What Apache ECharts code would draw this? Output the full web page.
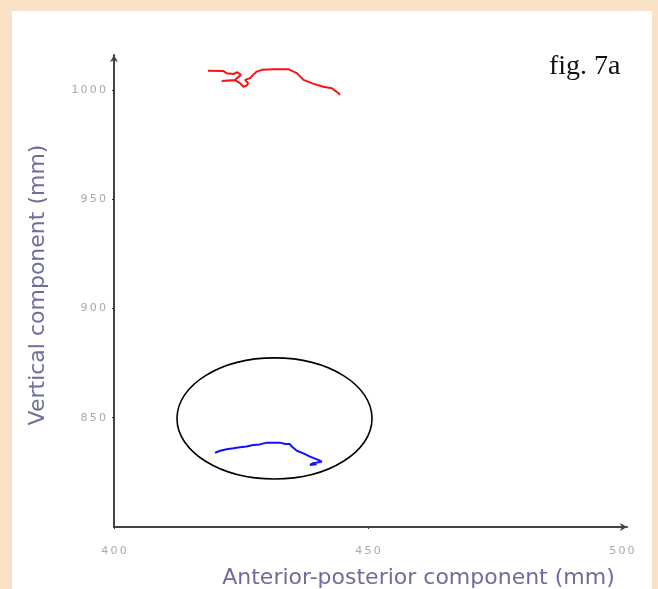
<!DOCTYPE html>
<html>
<head>
<meta charset="utf-8">
<script src="https://cdn.jsdelivr.net/npm/echarts@6/dist/echarts.min.js"></script>
<style>
  body { margin: 0; background: #f8e1c5; }
  #panel { position: absolute; left: 12px; top: 11px; width: 640px; height: 578px; background: #fff; }
  #chart { position: absolute; left: 0; top: 0; width: 658px; height: 589px; }
</style>
</head>
<body>
<div id="panel"></div>
<div id="chart"></div>
<script>
// Head marker trace (red), values in mm [anterior-posterior, vertical]
const headTrace = [
    [418.5, 1008.8], [421.5, 1008.7], [422.2, 1007.6], [423.5, 1007.3], [424.3, 1008.1],
    [425.0, 1006.9], [423.8, 1004.6], [421.2, 1004.1], [423.8, 1004.5], [424.8, 1003.1],
    [425.5, 1001.5], [426.1, 1002.0], [426.4, 1003.1], [425.8, 1004.6], [426.8, 1005.4],
    [427.4, 1006.9], [428.1, 1008.4], [429.1, 1009.2], [431.4, 1009.5], [434.3, 1009.5],
    [436.0, 1007.7], [437.3, 1004.6], [439.2, 1002.9], [441.2, 1001.5], [442.9, 1000.8],
    [444.2, 998.5], [444.5, 997.8]
];
// Lower marker trace (blue)
const lowerTrace = [
    [419.9, 834.0], [420.9, 834.9], [422.2, 835.6], [423.5, 836.0], [424.8, 836.5],
    [426.1, 836.8], [427.4, 837.5], [428.7, 837.8], [430.1, 838.6], [432.7, 838.6],
    [433.7, 838.0], [434.6, 838.0], [435.0, 836.8], [436.0, 834.9], [437.3, 833.7],
    [438.6, 832.2], [440.2, 830.7], [440.9, 829.9], [439.2, 829.2], [438.6, 828.4],
    [439.9, 828.7]
];
const xTicks = [400, 450, 500];
const yTicks = [850, 900, 950, 1000];
// highlighted region: center and radii in mm
const ringCenter = [431.6, 849.7];
const ringRadius = [19.2, 27.7];

const spaced = v => String(v).split('').join('\u2009');
const labelStyle = { color: '#a9a9a9', fontFamily: 'DejaVu Sans', fontSize: 11 };
const nameStyle = { color: '#6d6d9e', fontFamily: 'DejaVu Sans', fontSize: 22 };
const lineStyle = { color: '#444', width: 2 };

const chart = echarts.init(document.getElementById('chart'));
chart.setOption({
    animation: false,
    grid: { left: 114, top: 55, right: 31, bottom: 62, containLabel: false, outerBoundsMode: 'none' },
    xAxis: {
        type: 'value', min: 400, max: 501,
        splitLine: { show: false },
        axisLine: { lineStyle: lineStyle, symbol: ['none', 'arrow'], symbolSize: [6, 7] },
        axisTick: { customValues: xTicks, length: 2, lineStyle: { color: '#333' } },
        axisLabel: Object.assign({ customValues: xTicks, margin: 19, formatter: spaced }, labelStyle),
        name: 'Anterior-posterior component (mm)', nameLocation: 'middle', nameGap: 40,
        nameTextStyle: Object.assign({ padding: [0, 0, 0, 96] }, nameStyle)
    },
    yAxis: {
        type: 'value', min: 800, max: 1016,
        splitLine: { show: false },
        axisLine: { lineStyle: lineStyle, symbol: ['none', 'arrow'], symbolSize: [6, 7] },
        axisTick: { customValues: yTicks, length: 2, lineStyle: { color: '#333' } },
        axisLabel: Object.assign({ customValues: yTicks, margin: 8, formatter: spaced }, labelStyle),
        name: 'Vertical component (mm)', nameLocation: 'middle', nameGap: 65,
        nameTextStyle: Object.assign({ padding: [0, 0, 0, 12] }, nameStyle)
    },
    series: [
        { type: 'line', data: headTrace, showSymbol: false, lineStyle: { color: '#ff1010', width: 2 } },
        { type: 'line', data: lowerTrace, showSymbol: false, lineStyle: { color: '#1010ff', width: 2 } }
    ]
});

// ring + figure label
const c = chart.convertToPixel('grid', ringCenter);
const e = chart.convertToPixel('grid', [ringCenter[0] + ringRadius[0], ringCenter[1] + ringRadius[1]]);
chart.setOption({
    graphic: [
        {
            type: 'ellipse',
            shape: { cx: c[0], cy: c[1], rx: e[0] - c[0], ry: c[1] - e[1] },
            style: { fill: 'none', stroke: '#000', lineWidth: 1.6 }
        },
        {
            type: 'text', left: 549, top: 53,
            style: { text: 'fig. 7a', fill: '#111', font: '28px "Liberation Serif"' }
        }
    ]
});
</script>
</body>
</html>
